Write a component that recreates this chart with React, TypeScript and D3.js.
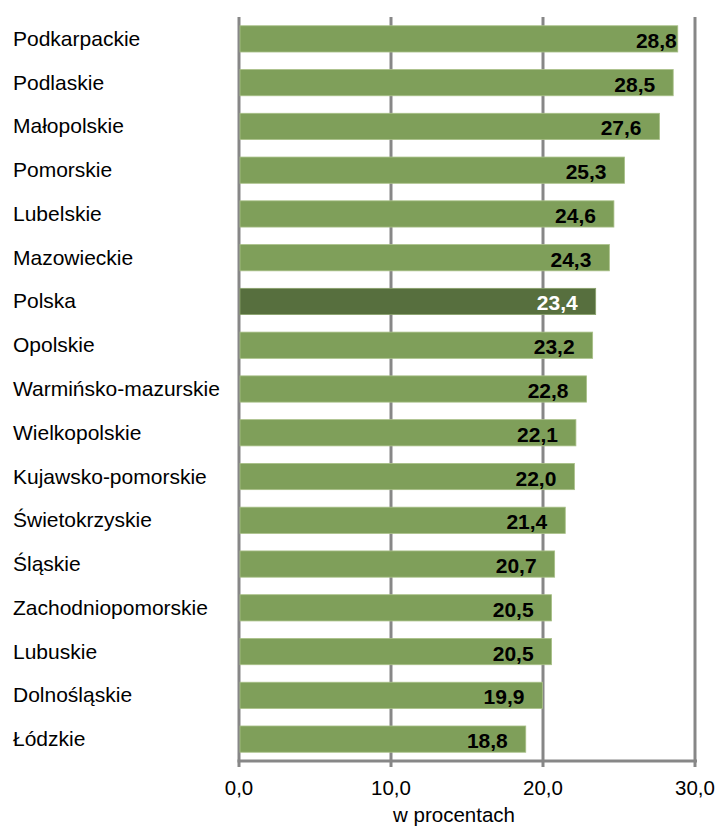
import React from "react";
import * as d3 from "d3";

const categories = [
  "Podkarpackie",
  "Podlaskie",
  "Małopolskie",
  "Pomorskie",
  "Lubelskie",
  "Mazowieckie",
  "Polska",
  "Opolskie",
  "Warmińsko-mazurskie",
  "Wielkopolskie",
  "Kujawsko-pomorskie",
  "Świetokrzyskie",
  "Śląskie",
  "Zachodniopomorskie",
  "Lubuskie",
  "Dolnośląskie",
  "Łódzkie",
];
const values = [28.8, 28.5, 27.6, 25.3, 24.6, 24.3, 23.4, 23.2, 22.8, 22.1, 22.0, 21.4, 20.7, 20.5, 20.5, 19.9, 18.8];
const highlight = "Polska";
const ticks = [0, 10, 20, 30];
const axisTitle = "w procentach";

const W = 717;
const H = 828;
const FONT = "'Liberation Sans', Arial, sans-serif";

export default function App() {
  const x = d3.scaleLinear().domain([0, 30]).range([240, 696]);
  const y = d3
    .scaleBand<string>()
    .domain(categories)
    .range([17, 761])
    .paddingInner(0.4)
    .paddingOuter(0.2);
  const fmt = (v: number) => v.toFixed(1).replace(".", ",");
  const grid = "#878787";
  const maxV = d3.max(values)!;

  return (
    <svg
      width={W}
      height={H}
      style={{ position: "absolute", left: 0, top: 0, background: "#fff" }}
      fontFamily={FONT}
    >
      {ticks.map((t) => (
        <line key={"g" + t} x1={x(t) - 1} x2={x(t) - 1} y1={17} y2={767} stroke={grid} strokeWidth={3} />
      ))}
      <line x1={x(0) - 2.5} x2={x(30) + 1} y1={761} y2={761} stroke={grid} strokeWidth={3} />
      {categories.map((c, i) => {
        const yy = y(c)!;
        const bw = y.bandwidth();
        const hi = c === highlight;
        const off = values[i] === maxV ? 1 : 18;
        return (
          <g key={c}>
            <rect
              x={x(0)}
              y={yy}
              width={x(values[i]) - x(0)}
              height={bw}
              fill={hi ? "#576f3e" : "#7f9f5a"}
              stroke={hi ? "#8aa36c" : "#a9c088"}
              strokeWidth={0.8}
            />
            <text
              x={x(values[i]) - off}
              y={yy + bw / 2 + 9}
              textAnchor="end"
              fontSize={21}
              fontWeight="bold"
              fill={hi ? "#ffffff" : "#000000"}
            >
              {fmt(values[i])}
            </text>
            <text x={13} y={yy + bw / 2 + 7} fontSize={21} fill="#000">
              {c}
            </text>
          </g>
        );
      })}
      {ticks.map((t) => (
        <text key={"t" + t} x={x(t) - 1} y={795} textAnchor="middle" fontSize={20.5} fill="#000">
          {fmt(t)}
        </text>
      ))}
      <text x={454} y={822} textAnchor="middle" fontSize={20.5} fill="#000">
        {axisTitle}
      </text>
    </svg>
  );
}
